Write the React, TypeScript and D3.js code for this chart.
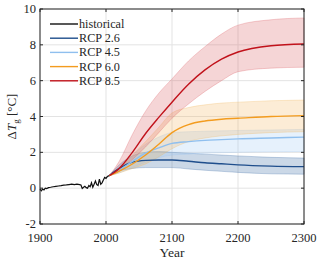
import * as React from 'react'
import * as d3 from 'd3'

const xTicks = [1900, 2000, 2100, 2200, 2300]
const yTicks = [-2, 0, 2, 4, 6, 8, 10]

const histYears = [1900, 1902, 1904, 1906, 1908, 1910, 1913, 1916, 1920, 1924, 1928, 1932, 1936, 1940, 1944, 1948, 1952, 1956, 1960, 1962, 1964, 1966, 1968, 1970, 1972, 1974, 1976, 1978, 1980, 1982, 1984, 1986, 1988, 1990, 1992, 1994, 1996, 1998, 2000, 2002, 2005]
const histValues = [-0.05, -0.15, -0.05, -0.1, 0, -0.02, 0.03, 0.05, 0.08, 0.1, 0.12, 0.14, 0.17, 0.18, 0.2, 0.22, 0.2, 0.22, 0.2, 0.18, -0.02, 0.05, 0.1, 0.03, 0.0, 0.15, 0.08, 0.3, 0.05, 0.22, 0.4, 0.2, 0.15, 0.5, 0.22, 0.3, 0.45, 0.6, 0.55, 0.65, 0.7]

const projYears = [2005, 2020, 2040, 2060, 2080, 2100, 2125, 2150, 2175, 2200, 2250, 2300]

const rcp26 = [0.7, 1.1, 1.45, 1.55, 1.57, 1.57, 1.5, 1.42, 1.36, 1.3, 1.23, 1.2]
const rcp26Hi = [0.7, 1.3, 1.8, 2.0, 2.05, 2.0, 1.95, 1.9, 1.85, 1.8, 1.72, 1.68]
const rcp26Lo = [0.7, 0.95, 1.1, 1.15, 1.15, 1.15, 1.07, 1.0, 0.94, 0.88, 0.8, 0.78]

const rcp45 = [0.7, 1.0, 1.5, 1.95, 2.25, 2.5, 2.6, 2.67, 2.71, 2.75, 2.8, 2.85]
const rcp45Hi = [0.7, 1.15, 1.85, 2.45, 2.85, 3.1, 3.15, 3.18, 3.2, 3.22, 3.25, 3.28]
const rcp45Lo = [0.7, 0.85, 1.15, 1.45, 1.7, 1.85, 1.9, 1.95, 1.98, 2.0, 2.03, 2.05]

const rcp60 = [0.7, 0.95, 1.35, 1.85, 2.45, 3.1, 3.55, 3.75, 3.85, 3.9, 4.0, 4.05]
const rcp60Hi = [0.7, 1.1, 1.85, 2.6, 3.4, 4.2, 4.5, 4.65, 4.75, 4.8, 4.88, 4.92]
const rcp60Lo = [0.7, 0.85, 1.1, 1.35, 1.75, 2.2, 2.6, 2.8, 2.92, 3.0, 3.1, 3.15]

const rcp85 = [0.7, 1.1, 2.0, 3.05, 3.95, 4.8, 5.8, 6.6, 7.2, 7.6, 7.95, 8.05]
const rcp85Hi = [0.7, 1.5, 3.0, 4.3, 5.3, 6.1, 7.1, 7.9, 8.6, 9.1, 9.4, 9.5]
const rcp85Lo = [0.7, 0.95, 1.6, 2.3, 3.1, 3.9, 4.7, 5.4, 6.0, 6.5, 6.7, 6.75]

const scenarios = [
  { name: 'RCP 2.6', mid: rcp26, hi: rcp26Hi, lo: rcp26Lo, line: '#1f4e8c', band: '#31639f' },
  { name: 'RCP 4.5', mid: rcp45, hi: rcp45Hi, lo: rcp45Lo, line: '#8fbfee', band: '#9cc6f2' },
  { name: 'RCP 6.0', mid: rcp60, hi: rcp60Hi, lo: rcp60Lo, line: '#f39c1f', band: '#f2b55c' },
  { name: 'RCP 8.5', mid: rcp85, hi: rcp85Hi, lo: rcp85Lo, line: '#c1121b', band: '#d9575d' },
]

const W = 320
const H = 261
const serif = '"Liberation Serif", "Times New Roman", serif'

export default function App() {
  const svgRef = React.useRef<SVGSVGElement>(null)

  React.useEffect(() => {
    if (!svgRef.current) return
    const svg = d3.select(svgRef.current)
    svg.selectAll('*').remove()

    const m = { left: 40, right: 16, top: 9, bottom: 37 }
    const x = d3.scaleLinear().domain([1900, 2300]).range([m.left, W - m.right])
    const y = d3.scaleLinear().domain([-2, 10]).range([H - m.bottom, m.top])
    const [x0, x1] = x.range()
    const [y0, y1] = y.range()

    // grid
    const grid = svg.append('g').attr('stroke', '#e3e3e3').attr('stroke-width', 1)
    xTicks.forEach((t) => {
      grid.append('line').attr('x1', x(t)).attr('x2', x(t)).attr('y1', y0).attr('y2', y1)
    })
    yTicks.forEach((t) => {
      grid.append('line').attr('x1', x0).attr('x2', x1).attr('y1', y(t)).attr('y2', y(t))
    })

    const plot = svg.append('g')

    // bands
    scenarios.forEach((s) => {
      const pts = projYears.map((yr, i) => ({ yr, lo: s.lo[i], hi: s.hi[i] }))
      const area = d3
        .area<{ yr: number; lo: number; hi: number }>()
        .x((d) => x(d.yr))
        .y0((d) => y(d.lo))
        .y1((d) => y(d.hi))
        .curve(d3.curveMonotoneX)
      plot
        .append('path')
        .attr('d', area(pts))
        .attr('fill', s.band)
        .attr('fill-opacity', 0.25)
        .attr('stroke', s.band)
        .attr('stroke-opacity', 0.35)
        .attr('stroke-width', 0.8)
    })

    const line = d3
      .line<[number, number]>()
      .x((d) => x(d[0]))
      .y((d) => y(d[1]))

    // historical
    plot
      .append('path')
      .attr('d', line(histYears.map((yr, i) => [yr, histValues[i]] as [number, number])))
      .attr('fill', 'none')
      .attr('stroke', '#111')
      .attr('stroke-width', 1.2)

    scenarios.forEach((s) => {
      plot
        .append('path')
        .attr('d', line.curve(d3.curveMonotoneX)(projYears.map((yr, i) => [yr, s.mid[i]] as [number, number])))
        .attr('fill', 'none')
        .attr('stroke', s.line)
        .attr('stroke-width', 1.4)
      line.curve(d3.curveLinear)
    })

    // frame + ticks
    const ax = svg.append('g').attr('stroke', '#262626').attr('stroke-width', 1)
    ax.append('rect')
      .attr('x', x0)
      .attr('y', y1)
      .attr('width', x1 - x0)
      .attr('height', y0 - y1)
      .attr('fill', 'none')
    const tl = 3
    xTicks.forEach((t) => {
      ax.append('line').attr('x1', x(t)).attr('x2', x(t)).attr('y1', y0).attr('y2', y0 - tl)
      ax.append('line').attr('x1', x(t)).attr('x2', x(t)).attr('y1', y1).attr('y2', y1 + tl)
    })
    yTicks.forEach((t) => {
      ax.append('line').attr('x1', x0).attr('x2', x0 + tl).attr('y1', y(t)).attr('y2', y(t))
      ax.append('line').attr('x1', x1).attr('x2', x1 - tl).attr('y1', y(t)).attr('y2', y(t))
    })

    const txt = svg.append('g').attr('font-family', serif).attr('fill', '#262626')
    xTicks.forEach((t) => {
      txt.append('text')
        .attr('x', x(t))
        .attr('y', y0 + 17.5)
        .attr('text-anchor', 'middle')
        .attr('font-size', 12.5)
        .text(String(t))
    })
    yTicks.forEach((t) => {
      txt.append('text')
        .attr('x', x0 - 4)
        .attr('y', y(t) + 4)
        .attr('text-anchor', 'end')
        .attr('font-size', 12.5)
        .text(String(t))
    })
    txt.append('text')
      .attr('x', (x0 + x1) / 2)
      .attr('y', H - 4)
      .attr('text-anchor', 'middle')
      .attr('font-size', 13.5)
      .text('Year')

    const yl = txt.append('text')
      .attr('transform', `translate(16,${(y0 + y1) / 2}) rotate(-90)`)
      .attr('text-anchor', 'middle')
      .attr('font-size', 13)
    yl.append('tspan').text('Δ')
    yl.append('tspan').attr('font-style', 'italic').text('T')
    yl.append('tspan').attr('font-size', 9).attr('dy', 3).text('g')
    yl.append('tspan').attr('dy', -3).text(' [°C]')

    // legend
    const leg = svg.append('g').attr('font-family', serif)
    const entries = [{ name: 'historical', color: '#111' }, ...scenarios.map((s) => ({ name: s.name, color: s.line }))]
    entries.forEach((e, i) => {
      const ly = 24 + i * 14.2
      leg.append('line').attr('x1', 50).attr('x2', 78).attr('y1', ly).attr('y2', ly).attr('stroke', e.color).attr('stroke-width', 1.4)
      leg.append('text').attr('x', 79).attr('y', ly + 4).attr('font-size', 12.2).attr('fill', '#262626').text(e.name)
    })
  }, [])

  return (
    <svg
      ref={svgRef}
      width={W}
      height={H}
      style={{ position: 'absolute', left: 0, top: 0, background: '#fff', display: 'block' }}
    />
  )
}
